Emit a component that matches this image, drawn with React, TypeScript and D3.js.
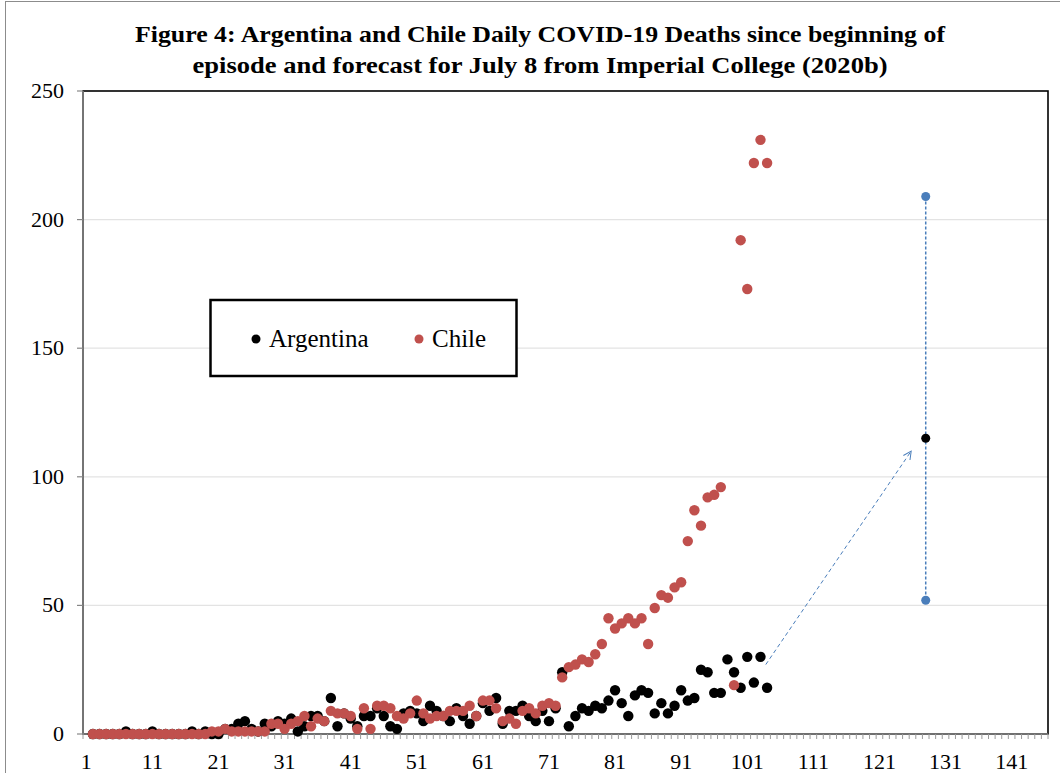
import React from "react";
import * as d3 from "d3";

const titleLines = [
  "Figure 4: Argentina and Chile Daily COVID-19 Deaths since beginning of",
  "episode and forecast for July 8 from Imperial College (2020b)",
];

const firstDay = 2;
const lastCategory = 146;

// Argentina daily deaths, days 2..104
const argentinaDeaths: number[] = [
  0, 0, 0, 0, 0, 1, 0, 0, 0, 1, 0, 0, 0, 0, 0, 1, 0, 1, 0, 0, 2, 2, 4, 5, 2, 1,
  4, 3, 5, 4, 6, 1, 3, 7, 7, 5,
  14, 3, 8, 6, 3, 7, 7, 10, 7, 3,
  2, 8, 9, 8, 5, 11, 9, 7, 5, 10,
  7, 4, 7, 12, 9, 14, 4, 9, 9, 11,
  7, 5, 9, 5, 10, 24, 3, 7, 10, 9,
  11, 10, 13, 17, 12, 7, 15, 17, 16, 8,
  12, 8, 11, 17, 13, 14, 25, 24, 16, 16,
  29, 24, 18, 30, 20, 30, 18,
];

// Chile daily deaths, days 2..104 (null = no point)
const chileDeaths: (number | null)[] = [
  0, 0, 0, 0, 0, 0, 0, 0, 0, 0, 0, 0, 0, 0, 0, 0, 0, 0,
  1, 1, 2, 1, 1, 1, 1, 1, 1,
  4, 4, 2, 4, 5, 7, 3, 6, 5, 9,
  8, 8, 7, 2, 10, 2, 11, 11, 10, 7,
  6, 8, 13, 8, 6, 7, 7, 9, 9, 9,
  11, 7, 13, 13, 10, 5, 6, 4, 9, 10,
  8, 11, 12, 11, 22, 26, 27, 29, 28, 31,
  35, 45, 41, 43, 45, 43, 45, 35, 49, 54,
  53, 57, 59, 75, 87, 81, 92, 93, 96, null,
  19, 192, 173, 222, 231, 222,
];

const forecastDay = 128;
const forecastCentral = 115;
const forecastUpper = 209;
const forecastLower = 52;

// dashed arrow annotation (day, value)
const arrowStart = [103.8, 27];
const arrowEnd = [125.8, 110];

const yTicks = [0, 50, 100, 150, 200, 250];
const xTickLabels = [1, 11, 21, 31, 41, 51, 61, 71, 81, 91, 101, 111, 121, 131, 141];

const legendItems = [
  { name: "Argentina", color: "#000000" },
  { name: "Chile", color: "#c0504d" },
];

const RED = "#c0504d";
const BLUE = "#4a7ebb";
const FONT = "'Liberation Serif', 'Times New Roman', serif";

export default function App() {
  const W = 1060;
  const H = 773;
  const left = 83;
  const right = 1048;
  const top = 91;
  const bottom = 734;

  const band = d3
    .scaleBand<number>()
    .domain(d3.range(1, lastCategory + 1))
    .range([left, right])
    .paddingInner(0)
    .paddingOuter(0);
  const bw = band.bandwidth();
  const xc = (d: number) => (band(d) as number) + bw / 2;
  const xLin = d3.scaleLinear().domain([0.5, lastCategory + 0.5]).range([left, right]);
  const y = d3.scaleLinear().domain([0, 250]).range([bottom, top]);

  const argPts = argentinaDeaths.map((v, i) => ({ day: firstDay + i, v }));
  const chiPts = chileDeaths
    .map((v, i) => ({ day: firstDay + i, v }))
    .filter((p) => p.v !== null) as { day: number; v: number }[];

  const r = 5.2;

  return (
    <svg
      width={W}
      height={H}
      style={{ position: "absolute", left: 0, top: 0, background: "#fff" }}
      fontFamily={FONT}
    >
      <defs>
        <marker
          id="arrowHead"
          viewBox="0 0 10 10"
          refX="9"
          refY="5"
          markerWidth="10"
          markerHeight="10"
          markerUnits="userSpaceOnUse"
          orient="auto"
        >
          <path d="M1,1 L9,5 L1,9" fill="none" stroke={BLUE} strokeWidth={1} />
        </marker>
      </defs>
      <rect x={0} y={0} width={W} height={H} fill="#fff" />
      {/* outer chart frame */}
      <rect x={5.5} y={1.5} width={W + 10} height={H + 10} fill="none" stroke="#8c8c8c" strokeWidth={1} />

      {/* title */}
      {titleLines.map((t, i) => (
        <text
          key={i}
          x={540}
          y={42 + i * 31}
          textAnchor="middle"
          fontSize={23.5}
          fontWeight="bold"
          textLength={i === 0 ? 810 : 695}
          lengthAdjust="spacingAndGlyphs"
          fill="#000"
        >
          {t}
        </text>
      ))}

      {/* gridlines */}
      {yTicks
        .filter((t) => t > 0 && t < 250)
        .map((t) => (
          <line key={t} x1={left} x2={right} y1={y(t)} y2={y(t)} stroke="#e3e3e3" strokeWidth={1.2} />
        ))}

      {/* plot border */}
      <rect x={left} y={top} width={right - left} height={bottom - top} fill="none" stroke="#000" strokeWidth={1.6} />

      {/* axes */}
      <line x1={left} x2={left} y1={top} y2={bottom} stroke="#868686" strokeWidth={1.6} />
      <line x1={left} x2={right} y1={bottom} y2={bottom} stroke="#868686" strokeWidth={1.6} />
      {yTicks.map((t) => (
        <g key={t}>
          <line x1={left - 6} x2={left} y1={y(t)} y2={y(t)} stroke="#868686" strokeWidth={1.2} />
          <text x={64} y={y(t) + 7} textAnchor="end" fontSize={22} fill="#000">
            {t}
          </text>
        </g>
      ))}
      {d3.range(0, lastCategory + 1).map((i) => (
        <line
          key={i}
          x1={left + i * bw}
          x2={left + i * bw}
          y1={bottom}
          y2={bottom + 5}
          stroke="#9a9a9a"
          strokeWidth={1}
        />
      ))}
      {xTickLabels.map((d) => (
        <text key={d} x={xc(d)} y={769} textAnchor="middle" fontSize={22} fill="#000">
          {d}
        </text>
      ))}

      {/* forecast range */}
      <line
        x1={xc(forecastDay)}
        x2={xc(forecastDay)}
        y1={y(forecastUpper)}
        y2={y(forecastLower)}
        stroke={BLUE}
        strokeWidth={1.5}
        strokeDasharray="3,2"
      />
      {/* arrow */}
      <line
        x1={xLin(arrowStart[0])}
        y1={y(arrowStart[1])}
        x2={xLin(arrowEnd[0])}
        y2={y(arrowEnd[1])}
        stroke={BLUE}
        strokeWidth={1}
        strokeDasharray="4,3"
        markerEnd="url(#arrowHead)"
      />

      {/* Argentina */}
      {argPts.map((p) => (
        <circle key={"a" + p.day} cx={xc(p.day)} cy={y(p.v)} r={r} fill="#000" />
      ))}
      {/* Chile */}
      {chiPts.map((p) => (
        <circle key={"c" + p.day} cx={xc(p.day)} cy={y(p.v)} r={r} fill={RED} />
      ))}

      <circle cx={xc(forecastDay)} cy={y(forecastUpper)} r={4.5} fill={BLUE} />
      <circle cx={xc(forecastDay)} cy={y(forecastLower)} r={4.5} fill={BLUE} />
      <circle cx={xc(forecastDay)} cy={y(forecastCentral)} r={4.5} fill="#000" />

      {/* legend */}
      <rect x={210.5} y={300} width={306} height={76} fill="#fff" stroke="#000" strokeWidth={2.5} />
      {legendItems.map((it, i) => {
        const cx = i === 0 ? 256 : 419;
        return (
          <g key={it.name}>
            <circle cx={cx} cy={339} r={4.5} fill={it.color} />
            <text x={cx + 13} y={347} fontSize={25} fill="#000">
              {it.name}
            </text>
          </g>
        );
      })}
    </svg>
  );
}
